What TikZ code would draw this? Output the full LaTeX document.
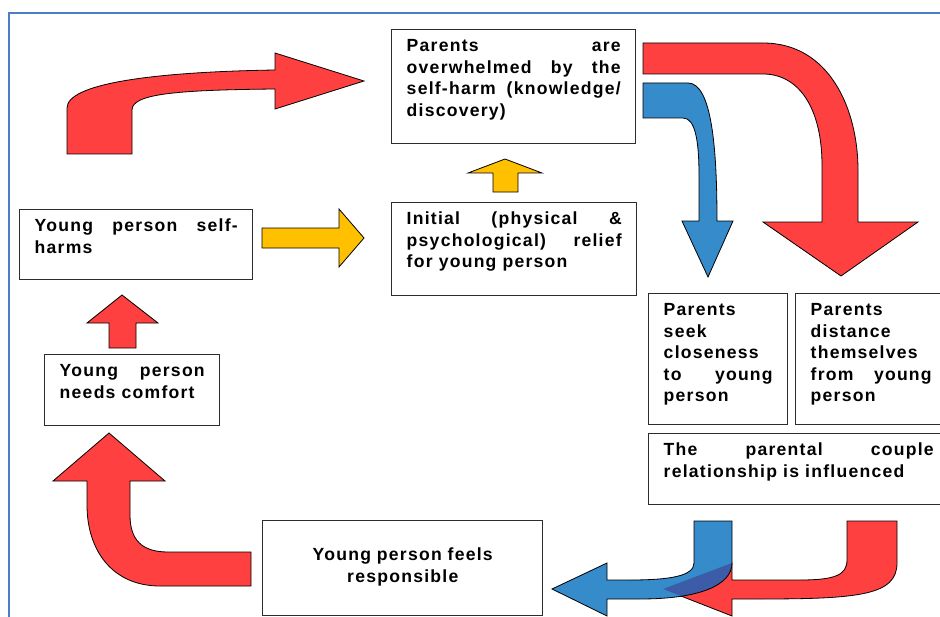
\documentclass[tikz,border=0pt]{standalone}
\usepackage{fontspec}
\newfontfamily\boxfont{Liberation Sans}[LetterSpace=7]
\definecolor{framebl}{RGB}{74,126,199}
\definecolor{arrred}{RGB}{255,64,64}
\definecolor{arrblue}{RGB}{54,139,202}
\definecolor{arryel}{RGB}{255,192,0}
\definecolor{mixblue}{RGB}{60,92,168}
\definecolor{boxgray}{RGB}{45,45,45}
\tolerance=10000
\hyphenpenalty=10000
\hbadness=10000
\begin{document}
\begin{tikzpicture}[x=0.75pt,y=-0.75pt,
    box/.style={draw=boxgray,line width=1.1pt,anchor=north west,inner xsep=11.25pt,inner ysep=0pt,
        align=justify,text height=16.5pt,font=\boxfont\bfseries\fontsize{13.2pt}{16.1pt}\selectfont},
    blockarrow/.style={draw=black,line width=0.6pt,line join=miter}]
    \useasboundingbox (0,0) rectangle (940,617);
    \draw[framebl,line width=1.5pt] (9,617)--(9,13.5)--(940,13.5);
    % boxes
    \node[box,text width=160.5pt,text depth=69pt] (overwhelm) at (391,29)
        {Parents are\linebreak overwhelmed by the\linebreak self-harm (knowledge/\linebreak discovery)};
    \node[box,text width=161.25pt,text depth=53.25pt] (relief) at (391,202)
        {Initial (physical \&\linebreak psychological) relief\linebreak for young person};
    \node[box,text width=152.25pt,text depth=36pt] (selfharm) at (19,209)
        {Young person self-\linebreak harms};
    \node[box,text width=108.75pt,text depth=36.75pt] (comfort) at (44,354)
        {Young person\linebreak needs comfort};
    \node[box,align=center,text width=187.5pt,text height=30pt,text depth=41.25pt] (responsible) at (262,520)
        {Young person feels\\ responsible};
    \node[box,text width=81.75pt,text depth=81.75pt] (closeness) at (648,293)
        {Parents\linebreak seek\linebreak closeness\linebreak to young\linebreak person};
    \node[box,text width=90.75pt,text depth=81.75pt] (distance) at (795,293)
        {Parents\linebreak distance\linebreak themselves\linebreak from young\linebreak person};
    \node[box,text width=202.5pt,text depth=36.75pt] (couple) at (648,433)
        {The parental couple\linebreak relationship is influenced};
    % block arrows
    \draw[blockarrow,fill=arrred] (67,154)--(67,108) .. controls (67,84) and (150,72) .. (275,70)
        --(275,53)--(364,81)--(275,109)--(275,89) .. controls (175,90) and (132,94) .. (132,110)--(132,154)--cycle;
    \draw[blockarrow,fill=arryel] (262,228)--(339,228)--(339,209)--(364,238)--(339,267)--(339,248)--(262,248)--cycle;
    \draw[blockarrow,fill=arryel] (493,192)--(493,173)--(468,173)--(505,159)--(542,173)--(518,173)--(518,192)--cycle;
    \draw[blockarrow,fill=arrred] (109,348)--(109,323)--(87,323)--(122,295)--(158,323)--(136,323)--(136,348)--cycle;
    \draw[blockarrow,fill=arrred] (251,586)--(160,586) .. controls (112,586) and (87,550) .. (87,505)
        --(87,481)--(53,481)--(109,433)--(165,481)--(130,481)--(130,515) .. controls (130,540) and (142,552) .. (168,552)--(251,552)--cycle;
    \draw[blockarrow,fill=arrred] (643,43)--(763,43) .. controls (830,43) and (858,110) .. (858,170)
        --(858,222)--(918,222)--(841,276)--(763,222)--(822,222)--(822,165) .. controls (822,110) and (800,74) .. (763,74)--(643,74)--cycle;
    \draw[blockarrow,fill=arrblue] (643,83)--(688,83) .. controls (712,83) and (717,150) .. (717,221)
        --(733,221)--(708,277)--(682,221)--(699,221)--(699,175) .. controls (699,140) and (695,118) .. (683,118)--(643,118)--cycle;
    \def\redback{(897,521)--(897,563) .. controls (897,595) and (860,599) .. (760,599)--(732,599)--(732,616)--(663,589)
        --(732,563)--(732,580)--(800,580) .. controls (835,580) and (847,575) .. (847,560)--(847,521)--cycle}
    \def\blueback{(694,521)--(694,563) .. controls (694,576) and (670,580) .. (630,580)--(607,580)--(607,563)--(552,589)
        --(607,616)--(607,599)--(640,599) .. controls (700,599) and (732,585) .. (732,563)--(732,521)--cycle}
    \draw[blockarrow,fill=arrred] \redback;
    \fill[arrblue] \blueback;
    \begin{scope}
        \clip \redback;
        \fill[mixblue] \blueback;
    \end{scope}
    \draw[blockarrow] \blueback;
\end{tikzpicture}
\end{document}
